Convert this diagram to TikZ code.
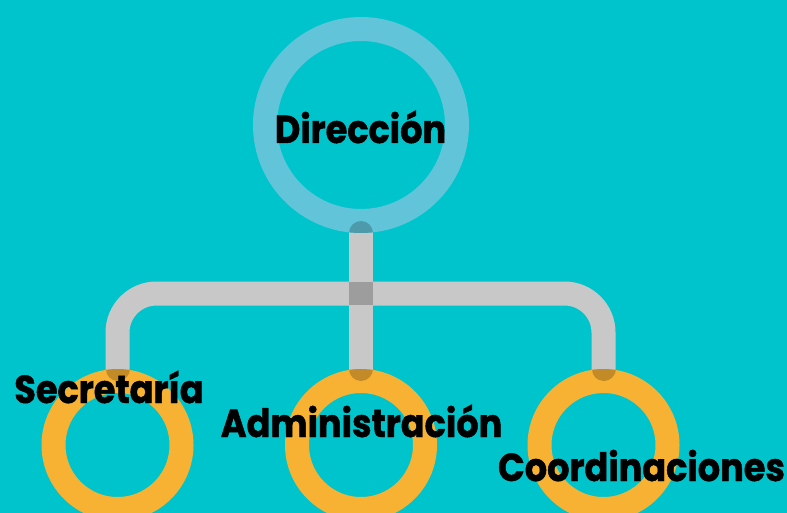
\documentclass[tikz,border=0pt]{standalone}
\usepackage{fontspec}
\newfontfamily\lblfont[FakeStretch=0.9,FakeBold=1.2]{Poppins Bold}
\usetikzlibrary{positioning}
\usetikzlibrary{calc}
\definecolor{bgcyan}{HTML}{00C4CC}
\definecolor{topblue}{HTML}{62C4D9}
\definecolor{topdark}{HTML}{4D9AAA}
\definecolor{ringorange}{HTML}{F8B233}
\definecolor{orangedark}{HTML}{C28B28}
\definecolor{pipegray}{HTML}{C8C8C8}
\definecolor{crossgray}{HTML}{9D9D9D}

\begin{document}
\begin{tikzpicture}[x=1pt,y=-1pt]
		\tikzset{ring/.style = {shape=circle, inner sep=0pt, line width=24pt},
			pipe/.style = {line width=24pt, line cap=round, draw=pipegray},
			lbl/.style = {font=\lblfont\fontsize{39}{39}\selectfont, anchor=base, inner sep=0pt}}
		\fill[bgcyan] (0,0) rectangle (787,513);
		\useasboundingbox (0,0) rectangle (787,513);
		% rings
		\node[ring, minimum size=192pt] (DIR) at (361,125) {};
		\node[ring, minimum size=128pt] (SEC) at (117.5,445) {};
		\node[ring, minimum size=128pt] (ADM) at (361,445) {};
		\node[ring, minimum size=128pt] (COO) at (603.5,445) {};
		\coordinate (BAR) at (361,293.5);
		% pipes
		\draw[pipe] (DIR.south) -- (ADM.north);
		\draw[pipe, rounded corners=39pt] (SEC.north) -- (SEC.north |- BAR) -- (COO.north |- BAR) -- (COO.north);
		\draw[topblue, line width=24pt] (DIR.center) circle[radius=96];
		\foreach \n in {SEC,ADM,COO}
			\draw[ringorange, line width=24pt] (\n.center) circle[radius=64];
		% overlaps
		\begin{scope}
			\clip (DIR.center) circle[radius=108];
			\draw[pipe, draw=topdark] (DIR.south) -- ++(0,30);
		\end{scope}
		\foreach \n in {SEC,ADM,COO}{
			\begin{scope}
				\clip (\n.center) circle[radius=76];
				\draw[pipe, draw=orangedark] (\n.north) -- ++(0,-30);
			\end{scope}
		}
		\fill[crossgray] ($(BAR)+(-12,-11.5)$) rectangle ($(BAR)+(12,11.5)$);
		% labels
		\node[lbl] (LDIR) at (360.5,143) {Dirección};
		\node[lbl] (LSEC) at (109,403) {Secretaría};
		\node[lbl] (LADM) at (361.5,437) {Administración};
		\node[lbl] (LCOO) at (641.5,481) {Coordinaciones};
\end{tikzpicture}
\end{document}
